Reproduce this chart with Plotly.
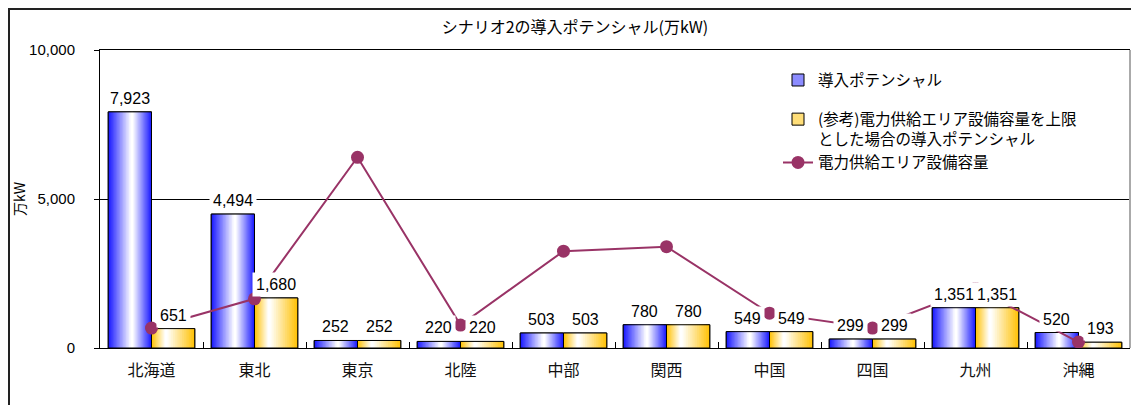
import plotly.graph_objects as go

categories = ["北海道", "東北", "東京", "北陸", "中部", "関西", "中国", "四国", "九州", "沖縄"]
potential = [7923, 4494, 252, 220, 503, 780, 549, 299, 1351, 520]
capped_potential = [651, 1680, 252, 220, 503, 780, 549, 299, 1351, 193]
capacity = [670, 1650, 6400, 770, 3250, 3400, 1170, 670, 2000, 200]

name_pot = "導入ポテンシャル"
name_cap = "(参考)電力供給エリア設備容量を上限<br>とした場合の導入ポテンシャル"
name_line = "電力供給エリア設備容量"
y_ticks = [0, 5000, 10000]
y_ticklabels = ["0", "5,000", "10,000"]

JP = "Noto Sans CJK JP"
NUM = "Liberation Sans, Arial"

BAR_W = 0.42
N_LAYERS = 16

# page body has an 8px margin; figure size / margins compensate
W, H = 1131, 397
ML, MR, MT, MB = 92, 9, 42, 57
PLOT_W = W - ML - MR
PLOT_H = H - MT - MB


def mix(c1, c2, t):
    return "rgb(%d,%d,%d)" % tuple(round(a + (b - a) * t) for a, b in zip(c1, c2))


fig = go.Figure()


def add_gradient_bars(values, name, base_offset, dark, mid, highlight, group):
    fig.add_trace(go.Bar(x=categories, y=values, name=name, offset=base_offset, width=BAR_W,
                         marker=dict(color=mid, line=dict(color="black", width=1)),
                         legendgroup=group, showlegend=True, hoverinfo="skip"))
    for k in range(N_LAYERS):
        t = k / N_LAYERS
        off = base_offset + highlight * BAR_W * t
        w = BAR_W * (1 - t)
        fig.add_trace(go.Bar(x=categories, y=values, offset=off, width=w,
                             marker=dict(color=mix(dark, (255, 255, 255), min(1.0, t * 1.08)),
                                         line=dict(width=0)),
                             legendgroup=group, showlegend=False, hoverinfo="skip"))
    fig.add_trace(go.Bar(x=categories, y=values, offset=base_offset, width=BAR_W,
                         marker=dict(color="rgba(0,0,0,0)", line=dict(color="black", width=1)),
                         legendgroup=group, showlegend=False, hoverinfo="skip"))


add_gradient_bars(potential, name_pot, -BAR_W, (30, 30, 255), "rgb(140,140,255)", 0.55, "g1")
add_gradient_bars(capped_potential, name_cap, 0.0, (255, 195, 10), "rgb(255,222,120)", 0.33, "g2")

fig.add_trace(go.Scatter(x=categories, y=capacity, name=name_line, mode="lines+markers",
                         line=dict(color="#993366", width=2),
                         marker=dict(color="#993366", size=13),
                         legendgroup="g2"))

# data labels
px_per_cat = PLOT_W / len(categories)
for c, v in zip(categories, potential):
    fig.add_annotation(x=c, y=v, text=f"{v:,}", showarrow=False, xshift=-BAR_W / 2 * px_per_cat,
                       yanchor="bottom", yshift=1, bgcolor="white", borderpad=3,
                       font=dict(family=NUM, size=16, color="black"))
for c, v in zip(categories, capped_potential):
    fig.add_annotation(x=c, y=v, text=f"{v:,}", showarrow=False, xshift=BAR_W / 2 * px_per_cat,
                       yanchor="bottom", yshift=1, bgcolor="white", borderpad=3,
                       font=dict(family=NUM, size=16, color="black"))

# y-axis title
fig.add_annotation(xref="paper", yref="paper", x=-81 / PLOT_W, y=0.5, xanchor="center",
                   yanchor="middle", text="万kW", textangle=-90,
                   showarrow=False, font=dict(family=JP, size=14, color="black"))

# outer frame and right plot border
fig.add_shape(type="rect", xref="paper", yref="paper",
              x0=-(ML - 1) / PLOT_W, x1=1.03, y0=-0.3, y1=1 + (MT - 1) / PLOT_H,
              line=dict(color="#222", width=2), layer="below")
fig.add_shape(type="line", xref="paper", yref="paper", x0=1, x1=1, y0=0, y1=1,
              line=dict(color="#aaa", width=2))

fig.update_layout(
    width=W, height=H,
    margin=dict(l=ML, r=MR, t=MT, b=MB),
    paper_bgcolor="white", plot_bgcolor="white",
    barmode="overlay",
    title=dict(text="シナリオ2の導入ポテンシャル(万kW)", x=(575 - 8) / W, xanchor="center",
               y=1 - 19 / H, yanchor="middle", font=dict(family=JP, size=16, color="black")),
    xaxis=dict(type="category", showline=True, linecolor="black", linewidth=1, mirror=True,
               ticks="inside", ticklen=6, tickcolor="black", tickson="boundaries",
               tickfont=dict(family=JP, size=16, color="#111"), ticklabelstandoff=8,
               showgrid=False, range=[-0.5, 9.5]),
    yaxis=dict(range=[0, 10000], tickvals=y_ticks, ticktext=y_ticklabels,
               showline=True, linecolor="black", linewidth=1, ticks="outside", ticklen=5,
               tickcolor="black", tickfont=dict(family=NUM, size=15, color="black"),
               ticklabelstandoff=16, showgrid=True, gridcolor="black", gridwidth=1,
               zeroline=False),
    legend=dict(x=(778 - 100) / PLOT_W, y=0.955, xanchor="left", yanchor="top",
                bgcolor="rgba(0,0,0,0)",
                font=dict(family=JP, size=15.5, color="black"), traceorder="grouped",
                tracegroupgap=16, valign="top", itemclick=False, itemdoubleclick=False),
    showlegend=True,
)

fig.write_html("out.html")
